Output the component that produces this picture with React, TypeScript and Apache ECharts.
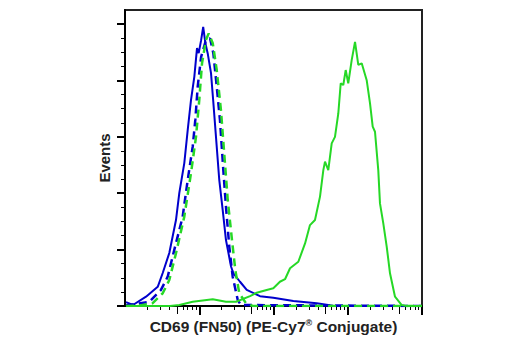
import React, { useEffect, useRef } from "react";
import * as echarts from "echarts";

// Histogram traces: x = fluorescence intensity (log scale, 10^0..10^4), y = events (max 105)
const blueSolidX = [1.03, 1.28, 1.92, 2.76, 3.22, 3.95, 4.86, 5.39, 6.29, 6.99, 7.74, 8.58, 9.33, 9.83, 10.6, 11.3, 12.1, 13.0, 14.4, 15.5, 16.8, 18.6, 20.7, 22.9, 26.8, 28.8, 35.4, 43.6, 65.8, 99.4, 185, 382, 633, 10000];
const blueSolidY = [1.4, 0.35, 3.3, 6.8, 11.7, 18.8, 30.5, 40.1, 50.7, 62.4, 73.0, 81.3, 91.5, 89.7, 94.3, 99.0, 93.2, 89.6, 82.6, 72.0, 60.0, 44.7, 34.0, 23.4, 14.0, 11.6, 8.6, 5.7, 3.5, 2.9, 1.8, 1.0, 0.1, 0];

const blueDashX = [1.03, 2.12, 3.05, 3.76, 4.61, 5.98, 6.99, 8.16, 8.85, 9.53, 10.6, 12.3, 14.0, 15.5, 17.2, 19.0, 21.1, 22.9, 25.4, 28.2, 33.0, 36.5, 10000];
const blueDashY = [0.2, 1.5, 5.7, 10.4, 19.9, 31.7, 44.7, 56.5, 66.0, 77.8, 88.4, 94.3, 94.9, 89.6, 77.8, 66.0, 48.2, 35.2, 21.0, 10.4, 2.1, 0.35, 0];

const greenDashX = [1.03, 1.59, 2.36, 3.22, 3.95, 4.86, 6.29, 7.74, 9.04, 10.0, 10.9, 12.3, 13.4, 15.2, 17.2, 19.6, 21.7, 24.2, 27.6, 30.6, 34.6, 42.6, 52.5, 10000];
const greenDashY = [0, 0.2, 1.0, 4.5, 9.2, 18.7, 31.7, 47.1, 60.0, 73.0, 86.1, 94.3, 96.7, 93.2, 83.7, 69.5, 54.1, 37.6, 23.4, 12.8, 4.5, 1.0, 0, 0];

const greenSolidX = [1.03, 4.04, 5.39, 8.16, 15.2, 22.9, 31.3, 48.3, 59.4, 80.9, 99.4, 122, 143, 167, 216, 266, 310, 362, 423, 469, 494, 547, 608, 673, 746, 804, 871, 938, 1016, 1130, 1253, 1387, 1542, 1799, 1995, 2168, 2328, 2577, 2717, 3011, 3350, 3707, 4329, 5333, 6223, 10000];
const greenSolidY = [0, 0, 0.35, 1.5, 2.4, 1.5, 1.5, 3.5, 4.7, 5.7, 6.3, 8.6, 9.5, 13.4, 15.7, 22.2, 28.7, 30.5, 38.8, 48.2, 51.2, 48.2, 57.7, 60.0, 68.3, 79.0, 78.4, 83.7, 79.0, 87.2, 93.7, 85.5, 86.1, 80.1, 71.9, 63.6, 61.8, 48.2, 36.4, 29.3, 21.0, 11.6, 3.3, 0.35, 0, 0];

// Axis ticks
const yTickValues = [0, 20, 40, 60, 80, 100];
const xDecadeTicks = [10, 100, 1000, 10000];
const xHalfTicks = [5, 50, 500, 5000];

const xTitle = "CD69 (FN50) (PE-Cy7{sup|®} Conjugate)";
const yTitle = "Events";

const BLUE = "#0000cc";
const GREEN = "#26d826";
const FONT = "'Liberation Sans', Arial, sans-serif";

const zip = (xs: number[], ys: number[]) => xs.map((x, i) => [x, ys[i]]);

export default function App() {
  const ref = useRef<HTMLDivElement>(null);
  useEffect(() => {
    if (!ref.current) return;
    const chart = echarts.init(ref.current, null, { renderer: "svg" });
    const lineSeries = (name: string, xs: number[], ys: number[], color: string, dashed: boolean) => ({
      name,
      type: "line",
      data: zip(xs, ys),
      showSymbol: false,
      symbol: "none",
      smooth: false,
      lineStyle: { color, width: dashed ? 2.5 : 2, type: dashed ? [8, 5] : "solid" },
      z: 3,
    });
    chart.setOption({
      animation: false,
      grid: {
        left: 125,
        right: 98,
        top: 10,
        bottom: 44,
        show: true,
        borderColor: "#222",
        borderWidth: 2,
        backgroundColor: "transparent",
      },
      xAxis: [
        {
          type: "log",
          logBase: 10,
          min: 1,
          max: 10000,
          name: xTitle,
          nameLocation: "middle",
          nameGap: 12,
          nameTextStyle: {
            fontFamily: FONT,
            fontWeight: "bold",
            fontSize: 15.5,
            color: "#222",
            rich: {
              sup: { fontFamily: FONT, fontWeight: "bold", fontSize: 9, color: "#222", verticalAlign: "top" },
            },
          },
          axisLine: { show: true, lineStyle: { color: "#000", width: 2 } },
          axisTick: { show: true, customValues: xDecadeTicks, length: 9, lineStyle: { color: "#000", width: 2 } },
          minorTick: { show: true, splitNumber: 9, length: 4, lineStyle: { color: "#000", width: 1 } },
          axisLabel: { show: false },
          splitLine: { show: false },
          minorSplitLine: { show: false },
        },
        {
          type: "log",
          logBase: 10,
          min: 1,
          max: 10000,
          position: "bottom",
          axisLine: { show: false },
          axisTick: { show: true, customValues: xHalfTicks, length: 8, lineStyle: { color: "#000", width: 1 } },
          axisLabel: { show: false },
          splitLine: { show: false },
        },
      ],
      yAxis: {
        type: "value",
        min: 0,
        max: 105,
        interval: 20,
        name: yTitle,
        nameLocation: "middle",
        nameGap: 13,
        nameTextStyle: { fontFamily: FONT, fontWeight: "bold", fontSize: 15, color: "#222" },
        axisLine: { show: true, lineStyle: { color: "#000", width: 2 } },
        axisTick: { show: true, customValues: yTickValues, length: 8, lineStyle: { color: "#000", width: 2 } },
        minorTick: { show: true, splitNumber: 4, length: 4, lineStyle: { color: "#000", width: 1 } },
        axisLabel: { show: false },
        splitLine: { show: false },
        minorSplitLine: { show: false },
      },
      series: [
        lineSeries("Blue solid", blueSolidX, blueSolidY, BLUE, false),
        lineSeries("Blue dashed", blueDashX, blueDashY, BLUE, true),
        lineSeries("Green dashed", greenDashX, greenDashY, GREEN, true),
        lineSeries("Green solid", greenSolidX, greenSolidY, GREEN, false),
      ],
    });
    return () => chart.dispose();
  }, []);
  return <div ref={ref} style={{ position: "fixed", left: 0, top: 0, width: 520, height: 350, background: "#fff" }} />;
}
